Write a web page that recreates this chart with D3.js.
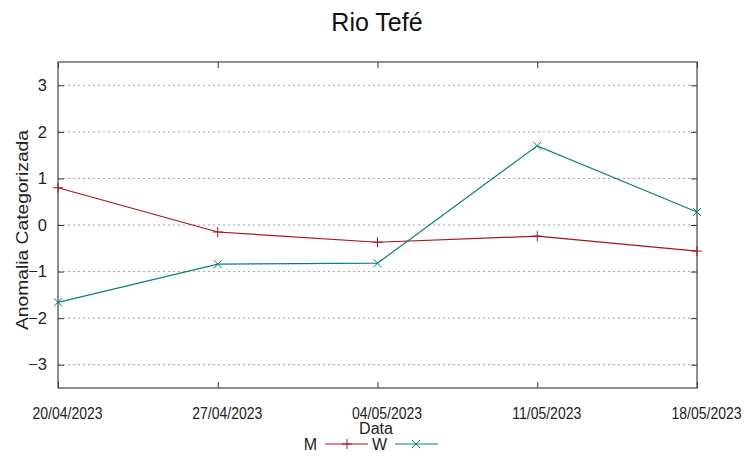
<!DOCTYPE html>
<html><head><meta charset="utf-8">
<script src="https://cdn.jsdelivr.net/npm/d3@7"></script>
<style>body{margin:0;background:#fff}svg{display:block;font-family:"Liberation Sans",Arial,sans-serif}</style>
</head><body><svg id="c" width="753" height="458"></svg>
<script>
const dates = ["20/04/2023","27/04/2023","04/05/2023","11/05/2023","18/05/2023"];
const seriesM = [0.80, -0.15, -0.37, -0.24, -0.56];
const seriesW = [-1.66, -0.84, -0.82, 1.70, 0.28];
const yTicks = [-3,-2,-1,0,1,2,3];
const colorM = "#a8141c", colorW = "#08807d";

const svg = d3.select("#c");
const L=58,R=697,T=62,B=388;
const x = d3.scalePoint().domain(dates).range([L,R]);
const y = d3.scaleLinear().domain([-3.5,3.5]).range([B,T]);

// grid
svg.append("g").selectAll("line").data(yTicks).join("line")
  .attr("x1",L).attr("x2",R).attr("y1",d=>y(d)).attr("y2",d=>y(d))
  .attr("stroke","#a0a0a0").attr("stroke-width",1).attr("stroke-dasharray","2,3");

// axes
const ya = svg.append("g").attr("transform",`translate(${L},0)`)
  .call(d3.axisLeft(y).tickValues(yTicks).tickSize(-6).tickPadding(11).tickFormat(d3.format("d")));
const yr = svg.append("g").attr("transform",`translate(${R},0)`)
  .call(d3.axisRight(y).tickValues(yTicks).tickSize(-6).tickFormat(""));
const xa = svg.append("g").attr("transform",`translate(0,${B})`)
  .call(d3.axisBottom(x).tickSize(-6).tickFormat(""));
const xt = svg.append("g").attr("transform",`translate(0,${T})`)
  .call(d3.axisTop(x).tickSize(-6).tickFormat(""));
[ya,yr,xa,xt].forEach(g=>{g.select(".domain").remove();g.selectAll("line").attr("stroke","#333");});
ya.selectAll("text").attr("font-size",16.5).attr("fill","#222").attr("font-family","Liberation Sans, Arial, sans-serif");
// x tick labels (slightly tall glyphs, offset right as in reference)
svg.append("g").selectAll("text").data(dates).join("text")
  .attr("transform",d=>`translate(${x(d)+9.5},${B+30.5}) scale(1,1.18)`)
  .attr("text-anchor","middle").attr("font-size",14).attr("fill","#222").text(d=>d);
svg.append("rect").attr("x",L).attr("y",T).attr("width",R-L).attr("height",B-T)
  .attr("fill","none").attr("stroke","#444").attr("stroke-width",1.2);

// lines
const line = d3.line().x((d,i)=>x(dates[i])).y(d=>y(d));
function plus(g,cx,cy,c){g.append("path").attr("d",`M${cx-5},${cy}H${cx+5}M${cx},${cy-5}V${cy+5}`).attr("stroke",c).attr("fill","none");}
function cross(g,cx,cy,c){g.append("path").attr("d",`M${cx-4},${cy-4}L${cx+4},${cy+4}M${cx-4},${cy+4}L${cx+4},${cy-4}`).attr("stroke",c).attr("fill","none");}
const gM = svg.append("g");
gM.append("path").datum(seriesM).attr("d",line).attr("fill","none").attr("stroke",colorM).attr("stroke-width",1.2);
seriesM.forEach((v,i)=>plus(gM,x(dates[i]),y(v),colorM));
const gW = svg.append("g");
gW.append("path").datum(seriesW).attr("d",line).attr("fill","none").attr("stroke",colorW).attr("stroke-width",1.2);
seriesW.forEach((v,i)=>cross(gW,x(dates[i]),y(v),colorW));

// texts
svg.append("text").attr("x",377).attr("y",31).attr("text-anchor","middle").attr("font-size",25).attr("fill","#111").text("Rio Tefé");
svg.append("text").attr("transform","translate(28,230) rotate(-90)").attr("text-anchor","middle").attr("font-size",16)
  .attr("textLength",200).attr("lengthAdjust","spacingAndGlyphs").attr("fill","#222").text("Anomalia Categorizada");
svg.append("text").attr("x",376).attr("y",434).attr("text-anchor","middle").attr("font-size",16).attr("fill","#222").text("Data");

// legend
const lg = svg.append("g");
lg.append("text").attr("x",317).attr("y",450).attr("text-anchor","end").attr("font-size",16).attr("fill","#222").text("M");
lg.append("line").attr("x1",325).attr("x2",368).attr("y1",444).attr("y2",444).attr("stroke",colorM).attr("stroke-width",1.2);
plus(lg,347,444,colorM);
lg.append("text").attr("x",387).attr("y",450).attr("text-anchor","end").attr("font-size",16).attr("fill","#222").text("W");
lg.append("line").attr("x1",395).attr("x2",438).attr("y1",444).attr("y2",444).attr("stroke",colorW).attr("stroke-width",1.2);
cross(lg,416,444,colorW);
</script></body></html>
